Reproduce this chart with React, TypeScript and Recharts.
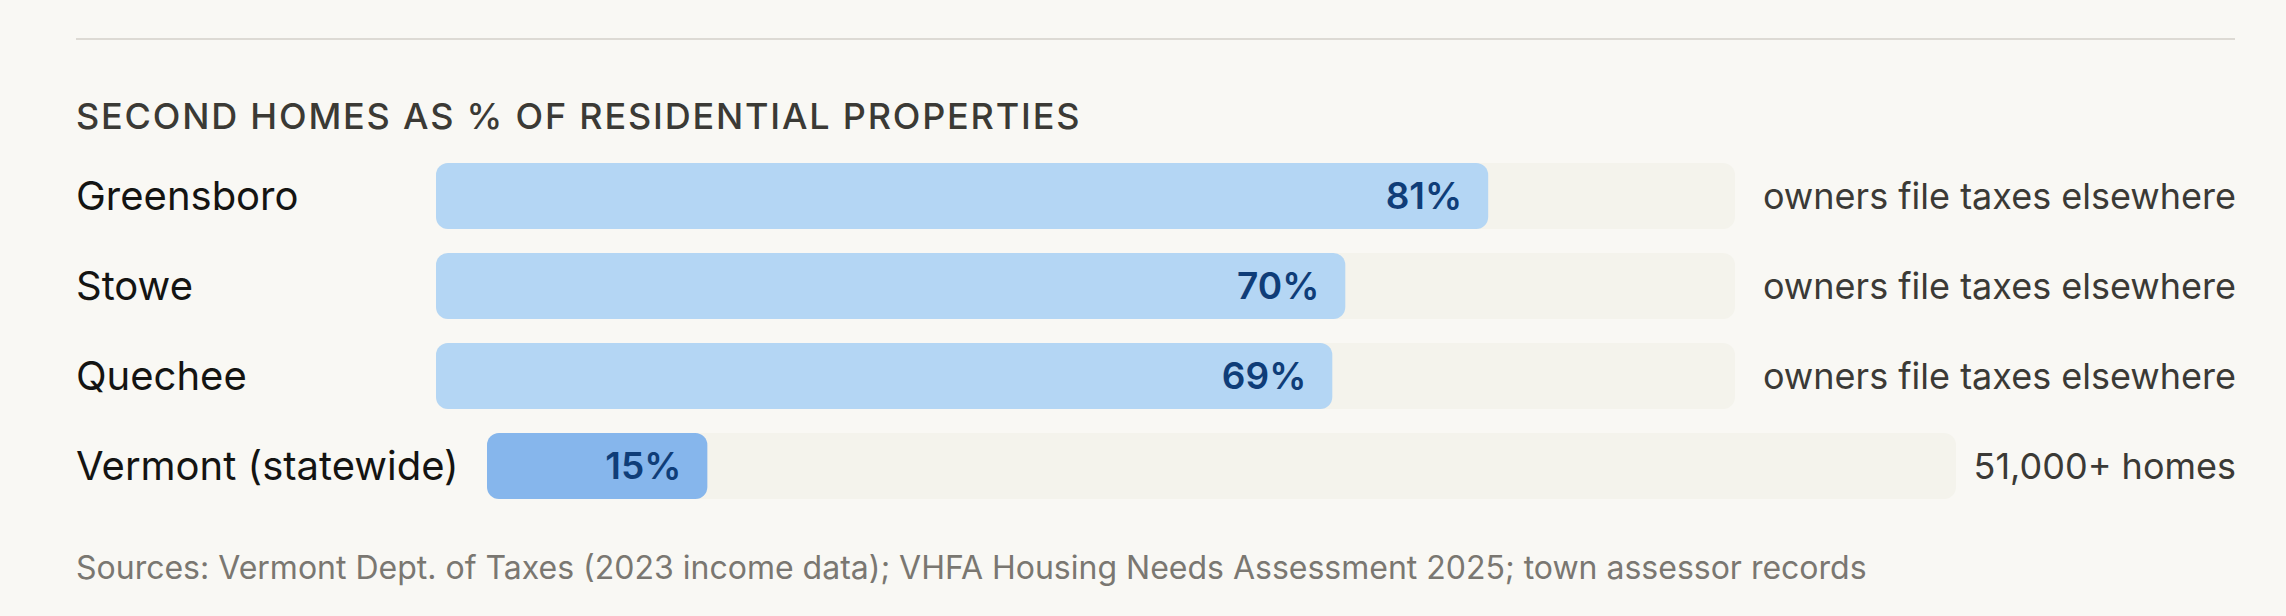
import { Bar, BarChart, LabelList, XAxis, YAxis } from 'recharts';

const towns = ['Greensboro', 'Stowe', 'Quechee'];
const townShares = [81, 70, 69];
const townNotes = ['owners file taxes elsewhere', 'owners file taxes elsewhere', 'owners file taxes elsewhere'];

const stateRow = ['Vermont (statewide)'];
const stateShares = [15];
const stateNotes = ['51,000+ homes'];

const FONT = 'Inter, "Noto Sans", sans-serif';
const CHART_W = 2160;

function NameTick({ y, payload }: any) {
  return (
    <text x={0} y={y} dy="0.36em" textAnchor="start" fill="#141412" fontSize={40} fontFamily={FONT}>
      {payload.value}
    </text>
  );
}

function makeNoteTick(notes: string[]) {
  return function NoteTick({ y, index }: any) {
    return (
      <text x={CHART_W} y={y} dy="0.36em" textAnchor="end" fill="#3b3a36" fontSize={36} fontFamily={FONT}>
        {notes[index]}
      </text>
    );
  };
}

type RowProps = {
  names: string[];
  shares: number[];
  notes: string[];
  fill: string;
  labelWidth: number;
  noteWidth: number;
};

function ShareRows({ names, shares, notes, fill, labelWidth, noteWidth }: RowProps) {
  const data = names.map((name, i) => ({ name, share: shares[i] }));
  return (
    <BarChart
      width={CHART_W}
      height={90 * names.length}
      data={data}
      layout="vertical"
      margin={{ top: 0, right: 0, bottom: 0, left: 0 }}
    >
      <XAxis type="number" domain={[0, 100]} hide />
      <YAxis
        yAxisId="name"
        type="category"
        dataKey="name"
        width={labelWidth}
        axisLine={false}
        tickLine={false}
        tick={<NameTick />}
      />
      <YAxis
        yAxisId="note"
        orientation="right"
        type="category"
        dataKey="name"
        width={noteWidth}
        axisLine={false}
        tickLine={false}
        tick={makeNoteTick(notes)}
      />
      <Bar
        yAxisId="name"
        dataKey="share"
        barSize={66}
        fill={fill}
        radius={12}
        background={{ fill: '#f4f3ec', radius: 12 }}
        isAnimationActive={false}
      >
        <LabelList
          dataKey="share"
          position="insideRight"
          offset={26}
          formatter={(v: any) => `${v}%`}
          fill="#0f3d78"
          fontSize={37}
          fontWeight={600}
          fontFamily={FONT}
        />
      </Bar>
    </BarChart>
  );
}

export default function App() {
  return (
    <div
      style={{
        position: 'absolute',
        left: 0,
        top: 0,
        width: 2286,
        height: 616,
        background: '#f9f8f4',
        fontFamily: FONT,
        overflow: 'hidden',
      }}
    >
      <div style={{ position: 'absolute', left: 76, top: 38, width: 2159, height: 2, background: '#dddad4' }} />
      <div
        style={{
          position: 'absolute',
          left: 76,
          top: 93,
          fontSize: 36,
          fontWeight: 500,
          letterSpacing: '0.05em',
          color: '#3b3a35',
          lineHeight: '46px',
          whiteSpace: 'nowrap',
        }}
      >
        SECOND HOMES AS % OF RESIDENTIAL PROPERTIES
      </div>
      <div style={{ position: 'absolute', left: 76, top: 151 }}>
        <ShareRows
          names={towns}
          shares={townShares}
          notes={townNotes}
          fill="#b4d6f4"
          labelWidth={360}
          noteWidth={501}
        />
      </div>
      <div style={{ position: 'absolute', left: 76, top: 421 }}>
        <ShareRows
          names={stateRow}
          shares={stateShares}
          notes={stateNotes}
          fill="#86b6ec"
          labelWidth={411}
          noteWidth={280}
        />
      </div>
      <div
        style={{
          position: 'absolute',
          left: 76,
          top: 548,
          fontSize: 32,
          color: '#7a7771',
          lineHeight: '40px',
          whiteSpace: 'nowrap',
        }}
      >
        Sources: Vermont Dept. of Taxes (2023 income data); VHFA Housing Needs Assessment 2025; town assessor records
      </div>
    </div>
  );
}
